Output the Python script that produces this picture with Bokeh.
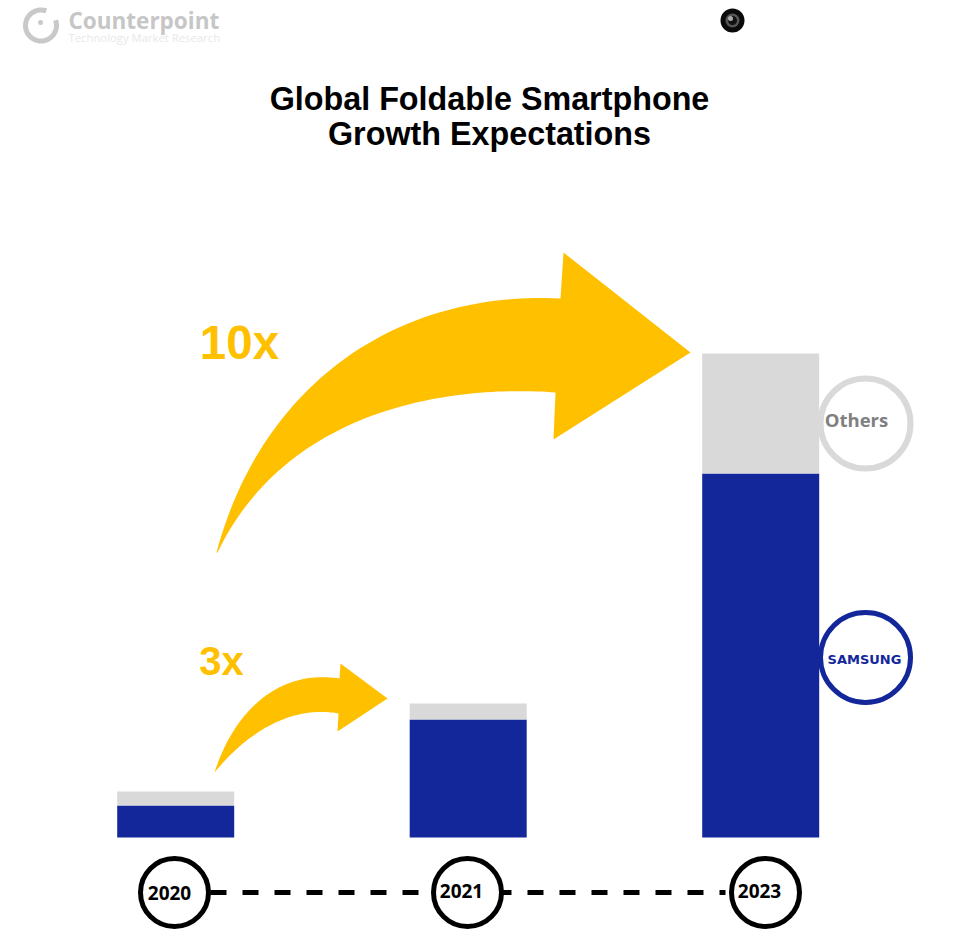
import numpy as np
from bokeh.plotting import figure
from bokeh.models import Range1d, ColumnDataSource
from bokeh.core.properties import value
from bokeh.embed import file_html
from bokeh.resources import INLINE

years = ["2020", "2021", "2023"]
samsung = [6.6, 24.4, 75.2]
others = [2.9, 3.3, 24.8]
title_lines = ["Global Foldable Smartphone", "Growth Expectations"]
growth_labels = ["10x", "3x"]

NAVY, GREY, GOLD = "#13279B", "#D9D9D9", "#FFC000"
W, H = 947, 932
# page-pixel canvas for decoration; value axes for the bars
p = figure(width=W, height=H, x_range=Range1d(0, W), y_range=Range1d(H, 0),
           x_axis_location=None, y_axis_location=None, toolbar_location=None,
           output_backend="svg", min_border=0, background_fill_color="white",
           outline_line_color=None)
p.grid.visible = False
p.extra_x_ranges["cat"] = Range1d((0 - 175.2) / 292.5, (W - 175.2) / 292.5)
p.extra_y_ranges["val"] = Range1d((837 - H) / 4.84, 837 / 4.84)


def bez(a, b, c, d, n=60):
    t = np.linspace(0, 1, n)[:, None]
    a, b, c, d = map(np.array, (a, b, c, d))
    return (1-t)**3*a + 3*(1-t)**2*t*b + 3*(1-t)*t**2*c + t**3*d


def label(x, y, s, size, color, font="Liberation Sans", style="bold", align="center"):
    p.text([x], [y], text=[s], text_font=value(font), text_font_style=style,
           text_font_size=f"{size}px", text_color=color, text_align=align,
           text_baseline="middle")


def arrow(upper, lower, head):
    pts = np.vstack([bez(*upper), np.array(head), bez(*lower)])
    p.patch(pts[:, 0], pts[:, 1], fill_color=GOLD, line_color=None)


# callout circles sit behind the bars
p.circle([865], [423], radius=45, fill_color="white", line_color=GREY, line_width=6)
p.circle([865], [657], radius=45, fill_color="white", line_color=NAVY, line_width=5)

# bars
idx = np.arange(len(years))
totals = np.array(samsung) + np.array(others)
src = ColumnDataSource(dict(x=idx, s=samsung, t=totals))
p.vbar("x", top="s", bottom=0, width=0.4, source=src, fill_color=NAVY, line_color=None,
       x_range_name="cat", y_range_name="val")
p.vbar("x", top="t", bottom="s", width=0.4, source=src, fill_color=GREY, line_color=None,
       x_range_name="cat", y_range_name="val")

# arrows
arrow(((216, 552), (262, 380), (400, 290), (560, 298)),
      ((555, 392), (465, 385), (290, 400), (217, 552)),
      [(563, 252), (690, 352), (553, 439)])
arrow(((214, 772), (232, 715), (275, 668), (339, 678)),
      ((338, 713), (300, 706), (255, 722), (214, 772)),
      [(340, 663), (387, 698), (337, 731)])

# title and labels
label(489, 98, title_lines[0], 32.3, "black")
label(489, 133, title_lines[1], 32.3, "black")
label(239, 342, growth_labels[0], 47.5, GOLD)
label(221, 660, growth_labels[1], 40, GOLD)
label(856, 419, "Others", 18.5, "#808080", font="Open Sans")
label(864, 659, "SAMSUNG", 13, NAVY, font="DejaVu Sans")

# timeline
p.line([210, 440], [892, 892], line_color="black", line_width=5, line_dash="16 16")
p.line([495, 725], [892, 892], line_color="black", line_width=5, line_dash="16 16")
for cx, tx, ty, yr in zip((174, 467, 765), (169, 461, 759), (892, 890, 890), years):
    p.circle([cx], [892], radius=34, fill_color="white", line_color="black", line_width=5)
    label(tx, ty, yr, 19, "black", font="Open Sans")

# logo
th = np.radians(np.linspace(-20, 290, 60))
p.line(40.5 + 15.5*np.cos(th), 25 + 15.5*np.sin(th), line_color="#C9C9C9", line_width=5)
p.circle([40], [22], radius=2.5, fill_color="#C9C9C9", line_color=None)
label(68, 20, "Counterpoint", 22.5, "#C6C6C6", font="Open Sans", align="left")
label(68, 37, "Technology Market Research", 11.3, "#E8E8E8", font="Open Sans", style="normal", align="left")

# camera icon
p.circle([732], [20], radius=12, fill_color="#0A0A0A", line_color=None)
p.circle([732], [20], radius=7, fill_color="#555555", line_color=None)
p.circle([732], [20], radius=4.5, fill_color="#111111", line_color=None)
p.circle([730], [18], radius=2.5, fill_color="#AAAAAA", line_color=None)

open("out.html", "w").write(file_html(p, INLINE))
